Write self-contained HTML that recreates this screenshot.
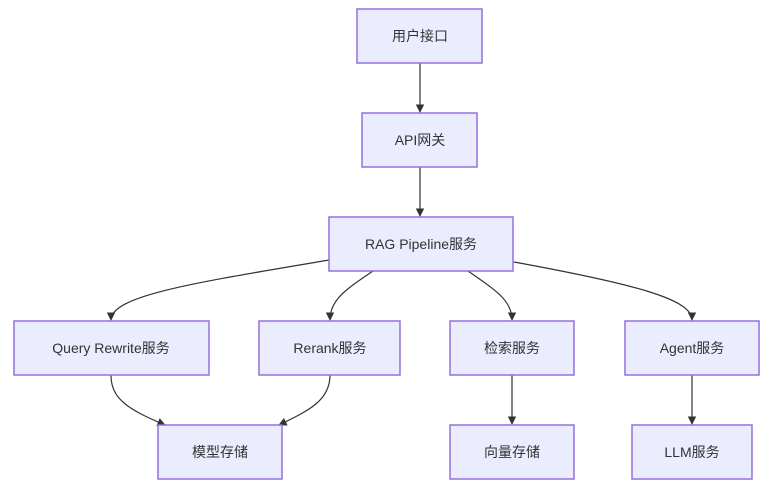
<!DOCTYPE html>
<html><head><meta charset="utf-8"><style>
body{margin:0;background:#fff;}
svg{display:block;}
text{font-family:"Liberation Sans","Noto Sans CJK SC",sans-serif;font-size:14px;fill:#333;text-anchor:middle;dominant-baseline:central;}
rect{fill:#ECECFF;stroke:#9370DB;stroke-width:1.5;}
path{fill:none;stroke:#333;stroke-width:1.2;}
</style></head><body>
<svg width="781" height="496" viewBox="0 0 781 496">
<defs><marker id="a" viewBox="0 0 10 10" refX="9" refY="5" markerWidth="7" markerHeight="7" orient="auto"><path d="M0,0L10,5L0,10z" style="fill:#333;stroke:none"/></marker></defs>
<path d="M420,63V112" marker-end="url(#a)"/>
<path d="M420,167V216" marker-end="url(#a)"/>
<path d="M329,260C200,282 111,295 111,320" marker-end="url(#a)"/>
<path d="M373,271C345,290 330,300 330,320" marker-end="url(#a)"/>
<path d="M468,271C495,290 512,300 512,320" marker-end="url(#a)"/>
<path d="M514,262C640,285 692,300 692,320" marker-end="url(#a)"/>
<path d="M111,375C111,400 130,410 165,425" marker-end="url(#a)"/>
<path d="M330,375C330,400 310,410 279,425" marker-end="url(#a)"/>
<path d="M512,375V424" marker-end="url(#a)"/>
<path d="M692,375V424" marker-end="url(#a)"/>
<rect x="357" y="9" width="125" height="54"/><text x="420" y="36">用户接口</text>
<rect x="362" y="113" width="115" height="54"/><text x="420" y="140">API网关</text>
<rect x="329" y="217" width="184" height="54"/><text x="421" y="244">RAG Pipeline服务</text>
<rect x="14" y="321" width="195" height="54"/><text x="111" y="348">Query Rewrite服务</text>
<rect x="259" y="321" width="141" height="54"/><text x="330" y="348">Rerank服务</text>
<rect x="450" y="321" width="124" height="54"/><text x="512" y="348">检索服务</text>
<rect x="625" y="321" width="134" height="54"/><text x="692" y="348">Agent服务</text>
<rect x="158" y="425" width="124" height="54"/><text x="220" y="452">模型存储</text>
<rect x="450" y="425" width="124" height="54"/><text x="512" y="452">向量存储</text>
<rect x="632" y="425" width="120" height="54"/><text x="692" y="452">LLM服务</text>
</svg>
</body></html>
